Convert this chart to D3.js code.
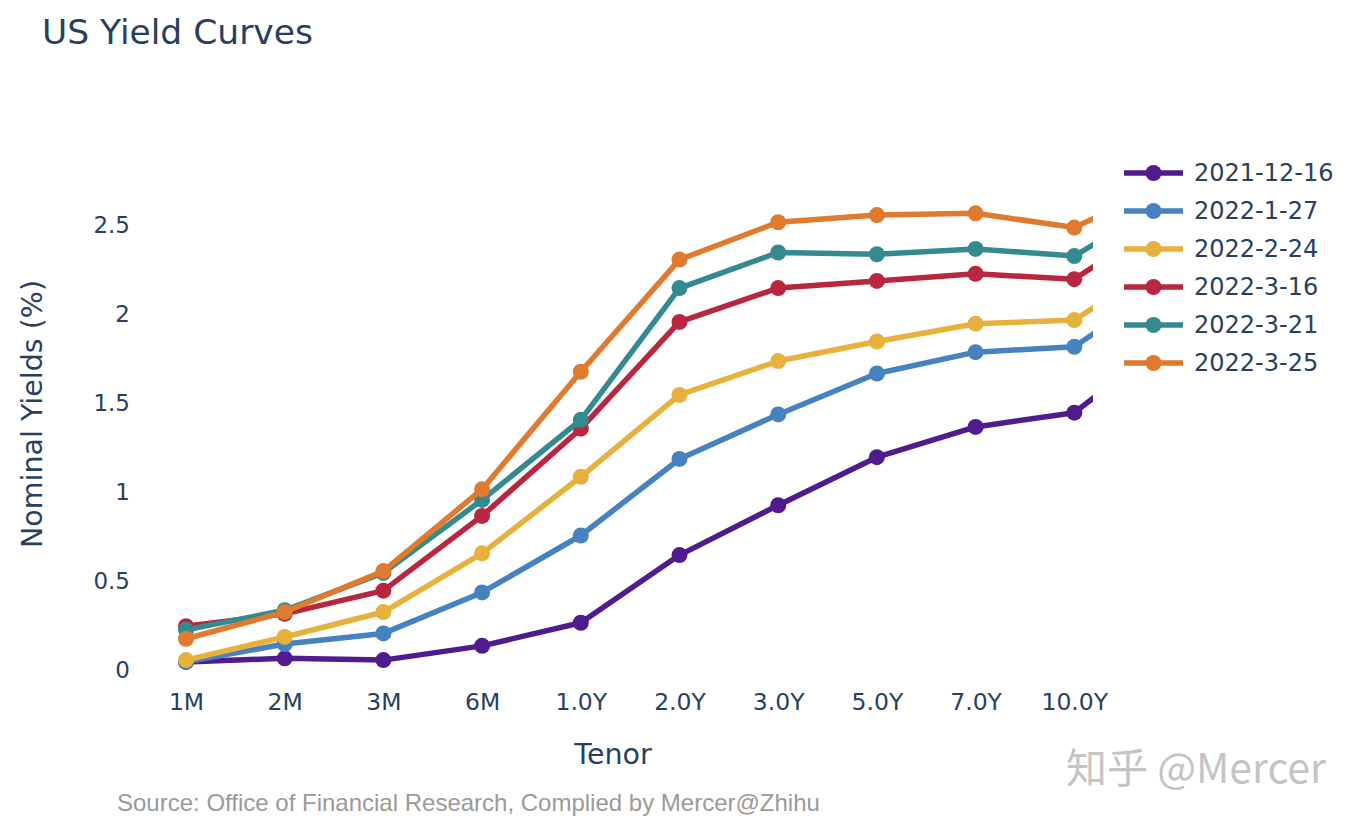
<!DOCTYPE html>
<html>
<head>
<meta charset="utf-8">
<script src="https://cdn.jsdelivr.net/npm/d3@7"></script>
<style>
  body { margin: 0; background: #fff; }
  text { font-family: Verdana, "DejaVu Sans", sans-serif; fill: #2a3f5f; }
</style>
</head>
<body>
<div id="chart"></div>
<script>
var tenors = ['1M', '2M', '3M', '6M', '1.0Y', '2.0Y', '3.0Y', '5.0Y', '7.0Y', '10.0Y', '20.0Y'];
var dates = ['2021-12-16', '2022-1-27', '2022-2-24', '2022-3-16', '2022-3-21', '2022-3-25'];
var colors = ['#501b8c', '#4682bf', '#e8b03c', '#b8263f', '#358a90', '#e07a2e'];

var y20211216 = [0.04, 0.06, 0.05, 0.13, 0.26, 0.64, 0.92, 1.19, 1.36, 1.44, 1.87];
var y20220127 = [0.04, 0.14, 0.20, 0.43, 0.75, 1.18, 1.43, 1.66, 1.78, 1.81, 2.19];
var y20220224 = [0.05, 0.18, 0.32, 0.65, 1.08, 1.54, 1.73, 1.84, 1.94, 1.96, 2.32];
var y20220316 = [0.24, 0.31, 0.44, 0.86, 1.35, 1.95, 2.14, 2.18, 2.22, 2.19, 2.55];
var y20220321 = [0.22, 0.33, 0.54, 0.95, 1.40, 2.14, 2.34, 2.33, 2.36, 2.32, 2.65];
var y20220325 = [0.17, 0.32, 0.55, 1.01, 1.67, 2.30, 2.51, 2.55, 2.56, 2.48, 2.74];
var series = [y20211216, y20220127, y20220224, y20220316, y20220321, y20220325];

var yTicks = [0, 0.5, 1, 1.5, 2, 2.5];

var width = 1362;
var height = 824;
var plot = { left: 150, right: 1093, top: 100, bottom: 690 };

var svg = d3.select('#chart').append('svg')
  .attr('width', width)
  .attr('height', height);

var x = d3.scalePoint()
  .domain(tenors)
  .range([186, 186 + 98.7 * (tenors.length - 1)]);

var y = d3.scaleLinear()
  .domain([0, 2.5])
  .range([669, 224]);

svg.append('defs').append('clipPath')
  .attr('id', 'plot-clip')
  .append('rect')
  .attr('x', plot.left)
  .attr('y', plot.top)
  .attr('width', plot.right - plot.left)
  .attr('height', plot.bottom - plot.top);

// title
svg.append('text')
  .attr('x', 42)
  .attr('y', 44)
  .style('font-size', '34.5px')
  .text('US Yield Curves');

// axes (labels only, no lines)
var xAxis = d3.axisBottom(x)
  .tickValues(tenors.slice(0, 10))
  .tickSize(0)
  .tickPadding(10);

var yAxis = d3.axisLeft(y)
  .tickValues(yTicks)
  .tickFormat(d3.format('~g'))
  .tickSize(0)
  .tickPadding(56);

var gx = svg.append('g')
  .attr('transform', 'translate(0,' + 683 + ')')
  .call(xAxis);
gx.select('.domain').remove();
gx.selectAll('text').style('font-size', '23.5px').attr('fill', '#2a3f5f');

var gy = svg.append('g')
  .attr('transform', 'translate(' + 186 + ',0)')
  .call(yAxis);
gy.select('.domain').remove();
gy.selectAll('text').style('font-size', '23px').attr('fill', '#2a3f5f').attr('dy', '0.35em');

svg.append('text')
  .attr('x', 613)
  .attr('y', 764)
  .attr('text-anchor', 'middle')
  .style('font-size', '28.5px')
  .text('Tenor');

svg.append('text')
  .attr('transform', 'translate(42,' + 414 + ') rotate(-90)')
  .attr('text-anchor', 'middle')
  .style('font-size', '28.5px')
  .text('Nominal Yields (%)');

// lines
var line = d3.line()
  .x(function (d, i) { return x(tenors[i]); })
  .y(function (d) { return y(d); });

var plotG = svg.append('g').attr('clip-path', 'url(#plot-clip)');

series.forEach(function (values, s) {
  var g = plotG.append('g').attr('class', 'trace');
  g.append('path')
    .datum(values)
    .attr('d', line)
    .attr('fill', 'none')
    .attr('stroke', colors[s])
    .attr('stroke-width', 5.5)
    .attr('stroke-linejoin', 'round');
  g.selectAll('circle')
    .data(values)
    .enter().append('circle')
    .attr('cx', function (d, i) { return x(tenors[i]); })
    .attr('cy', function (d) { return y(d); })
    .attr('r', 8)
    .attr('fill', colors[s]);
});

// legend
var legend = svg.append('g')
  .attr('transform', 'translate(1124,173)');

dates.forEach(function (name, i) {
  var row = legend.append('g')
    .attr('transform', 'translate(0,' + (i * 38) + ')');
  row.append('line')
    .attr('x1', 0).attr('x2', 59)
    .attr('stroke', colors[i])
    .attr('stroke-width', 5.5);
  row.append('circle')
    .attr('cx', 29.5)
    .attr('r', 8)
    .attr('fill', colors[i]);
  row.append('text')
    .attr('x', 70)
    .attr('dy', '0.35em')
    .style('font-size', '24px')
    .text(name);
});

// source note
svg.append('text')
  .attr('x', 117)
  .attr('y', 811)
  .style('font-family', '"Liberation Sans", Arial, sans-serif')
  .style('font-size', '24px')
  .style('fill', '#9a9a9a')
  .text('Source: Office of Financial Research, Complied by Mercer@Zhihu');

// watermark
svg.append('text')
  .attr('x', 1066)
  .attr('y', 783)
  .style('font-family', '"Noto Sans CJK SC", sans-serif')
  .style('font-size', '41px')
  .style('fill', '#c4c4c4')
  .text('知乎 @Mercer');
</script>
</body>
</html>
